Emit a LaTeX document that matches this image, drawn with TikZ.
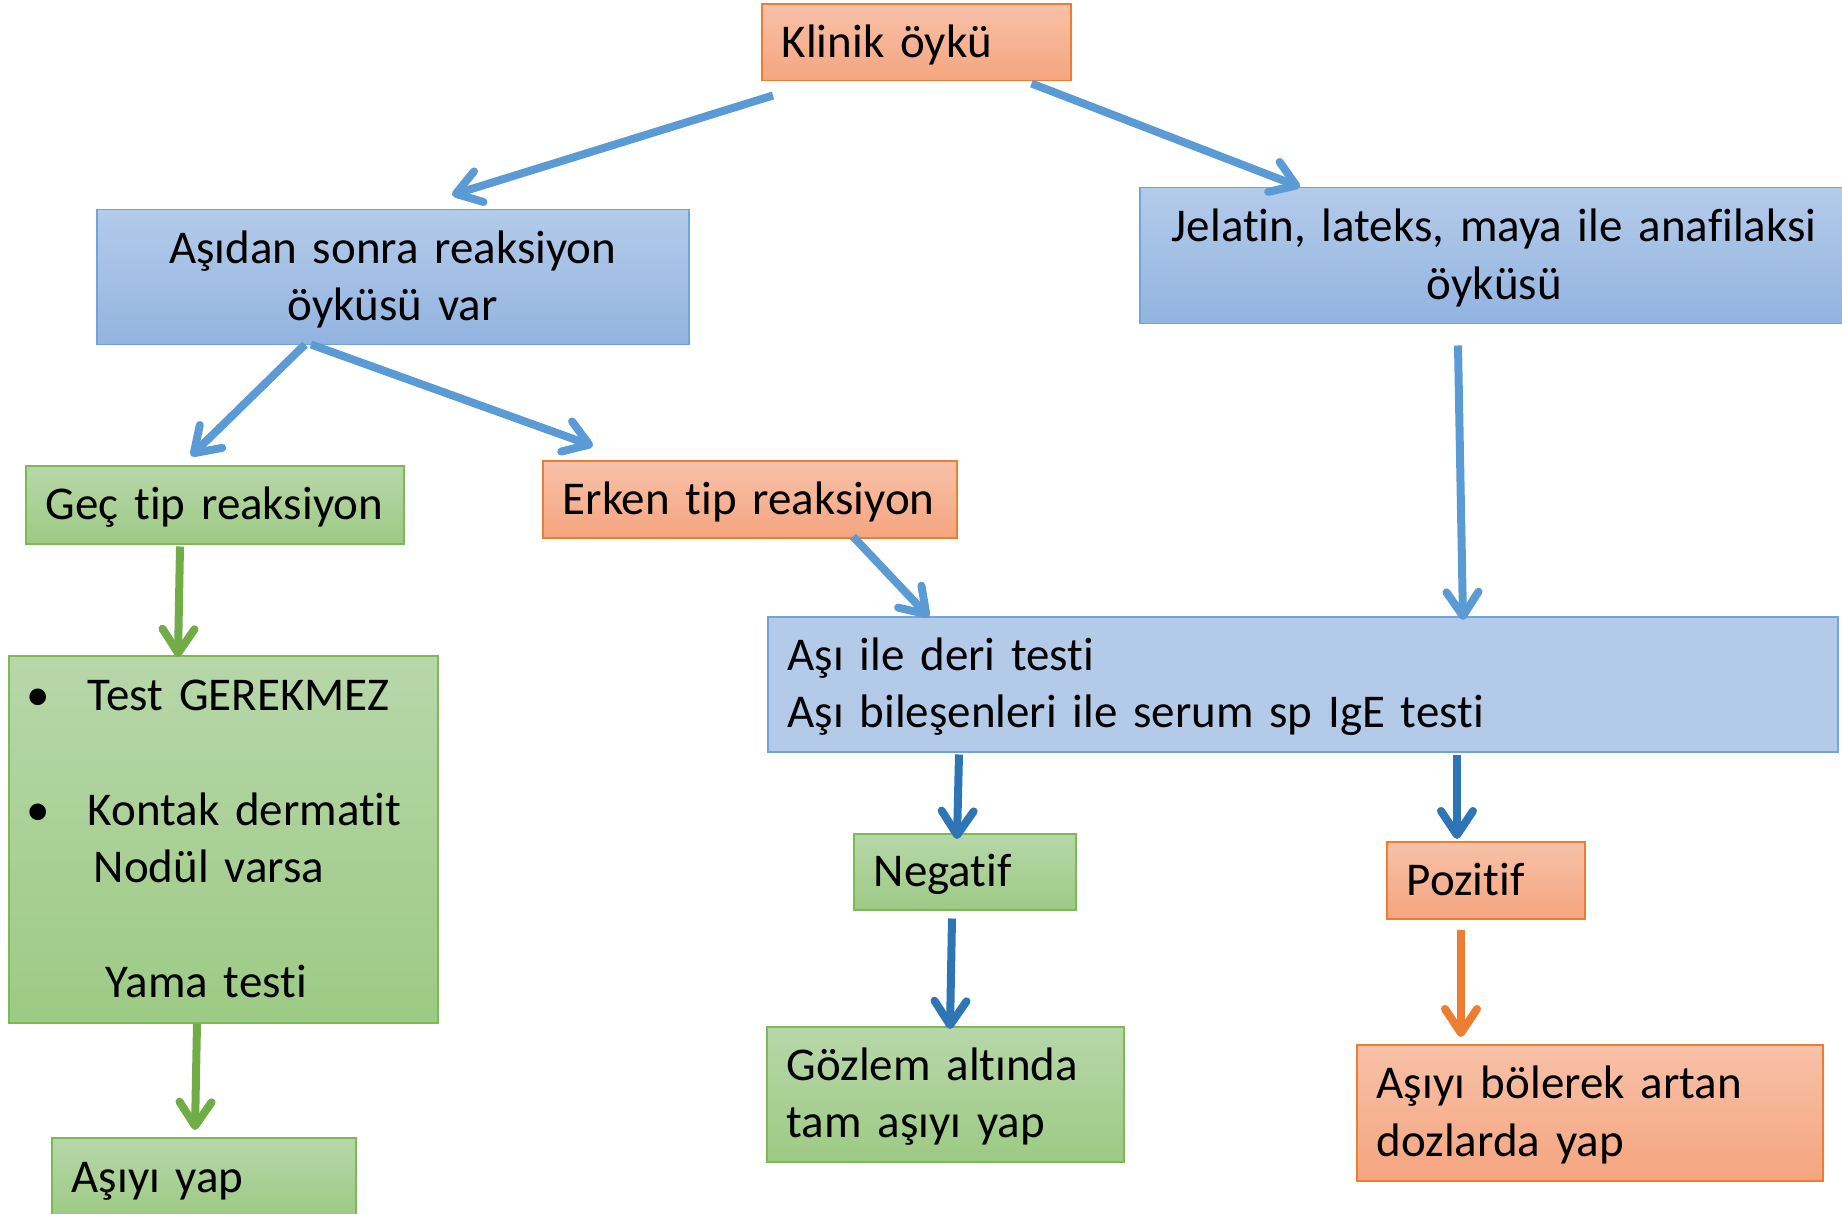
\documentclass[tikz,border=0pt]{standalone}
\usepackage{fontspec}
\setmainfont{Carlito}[Ligatures=NoCommon]
\usetikzlibrary{arrows.meta}
\definecolor{orline}{HTML}{ED7D31}
\definecolor{ortop}{HTML}{F8C1A8}
\definecolor{orbot}{HTML}{F4A57F}
\definecolor{blline}{HTML}{6FA5DA}
\definecolor{bltop}{HTML}{B4CBEA}
\definecolor{blbot}{HTML}{92B4E0}
\definecolor{blflat}{HTML}{B3CAE9}
\definecolor{grline}{HTML}{7DB955}
\definecolor{grtop}{HTML}{B7D7A9}
\definecolor{grbot}{HTML}{9DCA84}
\definecolor{arlblue}{HTML}{5B9BD5}
\definecolor{ardblue}{HTML}{2E75B6}
\definecolor{argreen}{HTML}{70AD47}
\definecolor{arorange}{HTML}{ED7D31}
\newcommand{\boxfont}{\fontsize{47}{57.5}\selectfont\spaceskip=9pt plus 1pt minus 1pt\relax}
\tikzset{
  box/.style={draw, line width=1.5pt, inner xsep=20pt, inner ysep=0pt, anchor=north west,
    font=\boxfont, text height=29.7pt, text depth=0pt, align=left},
  twoline/.style={text depth=57.5pt},
  orbox/.style={box, draw=orline, top color=ortop, bottom color=orbot},
  blbox/.style={box, draw=blline, top color=bltop, bottom color=blbot},
  blflatbox/.style={box, draw=blline, fill=blflat},
  grbox/.style={box, draw=grline, top color=grtop, bottom color=grbot},
  arr/.style={line width=8pt, -{Straight Barb[length=24pt,width=32pt,round]}},
}
\begin{document}
\begin{tikzpicture}[x=1pt,y=-1pt]
\useasboundingbox (0,0) rectangle (1842,1214);
% boxes
\node[orbox, minimum width=309pt, minimum height=76.5pt, text width=269pt] (klinik) at (761,3.5) {Klinik öykü};
\node[blbox, twoline, align=center, minimum width=592pt, minimum height=135pt, text width=552pt] (asidan) at (96,209) {Aşıdan sonra reaksiyon\\öyküsü var};
\node[blbox, twoline, align=center, minimum width=709pt, minimum height=136pt, text width=669pt] (jelatin) at (1139,187) {Jelatin, lateks, maya ile anafilaksi\\öyküsü};
\node[grbox, minimum width=378pt, minimum height=78pt, text width=338pt] (gec) at (25,465) {Geç tip reaksiyon};
\node[orbox, minimum width=414pt, minimum height=77pt, text width=374pt] (erken) at (542,460) {Erken tip reaksiyon};
\node[blflatbox, twoline, minimum width=1070pt, minimum height=135pt, text width=1030pt] (asi) at (767,616) {Aşı ile deri testi\\Aşı bileşenleri ile serum sp IgE testi};
\node[grbox, inner xsep=0pt, text depth=287.5pt, minimum width=429pt, minimum height=367pt, text width=429pt] (test) at (8,655)
  {\makebox[79pt][l]{\hspace*{18pt}•}Test GEREKMEZ\\ \mbox{}\\
   \makebox[79pt][l]{\hspace*{18pt}•}Kontak dermatit\\
   \hspace*{85pt}Nodül varsa\\ \mbox{}\\
   \hspace*{97pt}Yama testi};
\node[grbox, minimum width=222pt, minimum height=76pt, text width=182pt] (neg) at (853,833) {Negatif};
\node[orbox, minimum width=198pt, minimum height=77pt, text width=158pt] (poz) at (1386,841) {Pozitif};
\node[grbox, twoline, minimum width=357pt, minimum height=135pt, text width=317pt] (goz) at (766,1026) {Gözlem altında\\tam aşıyı yap};
\node[orbox, twoline, minimum width=466pt, minimum height=136pt, text width=426pt] (bol) at (1356,1044) {Aşıyı bölerek artan\\dozlarda yap};
\node[grbox, minimum width=304pt, minimum height=79pt, text width=264pt] (yap) at (51,1137) {Aşıyı yap};
% connectors
\draw[arr, arlblue] ([shift={(12,14)}]klinik.south west) -- ([shift={(356,-14)}]asidan.north west);
\draw[arr, arlblue] ([shift={(-40,2)}]klinik.south east) -- ([shift={(161,0)}]jelatin.north west);
\draw[arr, arlblue] ([shift={(209,-1)}]asidan.south west) -- ([shift={(166,-9)}]gec.north west);
\draw[arr, arlblue] ([shift={(215,-1)}]asidan.south west) -- ([shift={(51,-14)}]erken.north west);
\draw[arr, argreen] ([shift={(155,2)}]gec.south west) -- ([shift={(170,2)}]test.north west);
\draw[arr, argreen] ([shift={(189,0)}]test.south west) -- ([shift={(144,-7)}]yap.north west);
\draw[arr, arlblue] ([shift={(311,-2)}]erken.south west) -- ([shift={(162,1)}]asi.north west);
\draw[arr, arlblue] ([shift={(319,21)}]jelatin.south west) -- ([shift={(696,4)}]asi.north west);
\draw[arr, ardblue] ([shift={(192,2)}]asi.south west) -- ([shift={(104,6)}]neg.north west);
\draw[arr, ardblue] ([shift={(690,2)}]asi.south west) -- ([shift={(71,-2)}]poz.north west);
\draw[arr, ardblue] ([shift={(99,8)}]neg.south west) -- ([shift={(184,3)}]goz.north west);
\draw[arr, arorange] ([shift={(75,10)}]poz.south west) -- ([shift={(105,-7)}]bol.north west);
\end{tikzpicture}
\end{document}
